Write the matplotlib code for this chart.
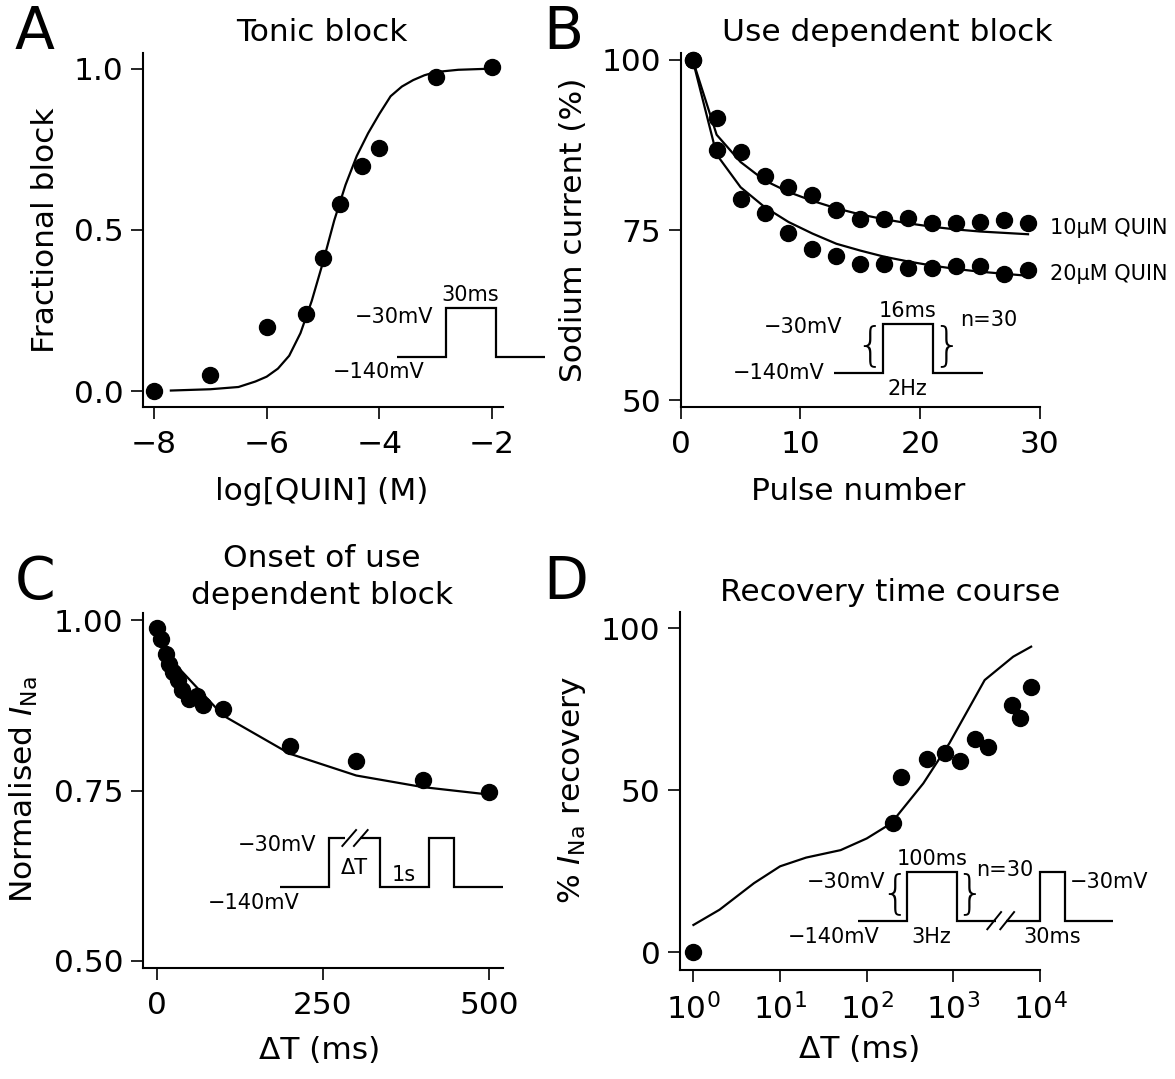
import matplotlib
matplotlib.use('Agg')
import matplotlib.pyplot as plt
from matplotlib.lines import Line2D

plt.rcParams['font.family'] = ['DejaVu Sans']
plt.rcParams['mathtext.fontset'] = 'dejavusans'

W, H = 1175, 1079

# ---------------- data ----------------
# A: Tonic block
a_log_conc = [-8.0, -7.0, -6.0, -5.3, -5.0, -4.7, -4.3, -4.0, -3.0, -2.0]
a_block = [0.0, 0.05, 0.199, 0.24, 0.413, 0.58, 0.697, 0.754, 0.975, 1.006]
a_fit_x = [-7.7, -7.0, -6.5, -6.2, -6.0, -5.8, -5.6, -5.4, -5.2, -5.0, -4.8,
           -4.6, -4.4, -4.2, -4.0, -3.8, -3.6, -3.4, -3.2, -3.0, -2.6, -2.1]
a_fit_y = [0.002, 0.006, 0.013, 0.03, 0.045, 0.07, 0.11, 0.18, 0.28, 0.40, 0.53,
           0.64, 0.73, 0.80, 0.86, 0.915, 0.945, 0.965, 0.98, 0.99, 0.997, 1.0]
a_xticks = [-8, -6, -4, -2]
a_yticks = [0.0, 0.5, 1.0]
a_yticklabels = ['0.0', '0.5', '1.0']

# B: Use dependent block
b_pulse = [1, 3, 5, 7, 9, 11, 13, 15, 17, 19, 21, 23, 25, 27, 29]
b_10uM = [100, 91.4, 86.4, 82.9, 81.3, 80.1, 78.0, 76.7, 76.7, 76.8, 76.1, 76.1, 76.2, 76.5, 76.0]
b_20uM = [100, 86.7, 79.6, 77.5, 74.6, 72.2, 71.2, 70.1, 70.0, 69.4, 69.5, 69.8, 69.8, 68.6, 69.2]
b_fit_10uM = [100, 89.0, 85.0, 82.3, 80.6, 79.3, 78.2, 77.3, 76.6, 76.0, 75.5, 75.1, 74.8, 74.6, 74.4]
b_fit_20uM = [100, 86.1, 81.3, 78.4, 76.2, 74.5, 73.0, 72.0, 71.1, 70.4, 69.8, 69.3, 68.9, 68.6, 68.3]
b_series_labels = ['10\u03bcM QUIN', '20\u03bcM QUIN']
b_xticks = [0, 10, 20, 30]
b_yticks = [50, 75, 100]

# C: Onset of use dependent block
c_dt = [0, 7, 14, 19, 25, 32, 38, 49, 60, 69, 100, 200, 300, 400, 500]
c_ina = [0.989, 0.972, 0.951, 0.935, 0.924, 0.912, 0.898, 0.885, 0.888, 0.875,
         0.870, 0.816, 0.794, 0.766, 0.748]
c_fit_x = [0, 10, 20, 30, 100, 200, 300, 400, 500]
c_fit_y = [0.995, 0.968, 0.95, 0.933, 0.860, 0.804, 0.772, 0.755, 0.744]
c_xticks = [0, 250, 500]
c_yticks = [0.50, 0.75, 1.00]
c_yticklabels = ['0.50', '0.75', '1.00']

# D: Recovery time course
d_dt = [1, 200, 250, 500, 800, 1200, 1800, 2500, 4800, 5900, 7900]
d_recovery = [0, 40.0, 54.2, 59.7, 61.6, 59.1, 65.8, 63.4, 76.3, 72.4, 81.8]
d_fit_x = [1, 2, 5, 10, 20, 50, 100, 190, 450, 900, 2300, 4900, 7900]
d_fit_y = [8.4, 13.1, 21.3, 26.5, 29.2, 31.5, 35.1, 39.7, 52.1, 64.5, 84.0, 91.2, 94.3]
d_xticks = [1, 10, 100, 1000, 10000]
d_yticks = [0, 50, 100]

# ---------------- style ----------------
FS = 22.5
INS = 15
LW = 1.6
MS = 11.5

fig = plt.figure(figsize=(W / 100, H / 100), dpi=100)


def fx(x):
    return x / W


def fy(y):
    return 1 - y / H


def rect(l, t, r, b):
    return [fx(l), fy(b), (r - l) / W, (b - t) / H]


def fig_line(xs, ys, lw=LW):
    fig.add_artist(Line2D([fx(x) for x in xs], [fy(y) for y in ys],
                          transform=fig.transFigure, color='black', lw=lw,
                          solid_joinstyle='miter', solid_capstyle='butt'))


def fig_txt(x, y, s, size=INS, ha='center', va='center', **kw):
    fig.text(fx(x), fy(y), s, fontsize=size, ha=ha, va=va, **kw)


def style_axes(ax):
    for side in ('top', 'right'):
        ax.spines[side].set_visible(False)
    for side in ('left', 'bottom'):
        ax.spines[side].set_linewidth(1.5)
    ax.tick_params(axis='both', which='major', direction='out', length=8.5,
                   width=1.2, labelsize=FS)
    ax.tick_params(axis='x', which='major', pad=8)
    ax.tick_params(axis='y', which='major', pad=5.5)
    ax.tick_params(axis='both', which='minor', direction='out', length=3.5, width=1.0)


# ---------------- Panel A ----------------
axA = fig.add_axes(rect(142.7, 52.7, 503.3, 407.3))
style_axes(axA)
axA.plot(a_fit_x, a_fit_y, color='black', lw=LW)
axA.plot(a_log_conc, a_block, 'o', color='black', ms=MS, clip_on=False)
axA.set_xlim(-8.2, -1.8)
axA.set_ylim(-0.05, 1.05)
axA.set_xticks(a_xticks)
axA.set_yticks(a_yticks)
axA.set_yticklabels(a_yticklabels)

# ---------------- Panel B ----------------
axB = fig.add_axes(rect(680.7, 53, 1040, 407.3))
style_axes(axB)
axB.plot(b_pulse, b_fit_10uM, color='black', lw=LW)
axB.plot(b_pulse, b_fit_20uM, color='black', lw=LW)
axB.plot(b_pulse, b_10uM, 'o', color='black', ms=MS, clip_on=False)
axB.plot(b_pulse, b_20uM, 'o', color='black', ms=MS, clip_on=False)
axB.set_xlim(0, 30)
axB.set_ylim(49, 101)
axB.set_xticks(b_xticks)
axB.set_yticks(b_yticks)

# ---------------- Panel C ----------------
axC = fig.add_axes(rect(142.7, 612.7, 503.3, 968.3))
style_axes(axC)
axC.plot(c_fit_x, c_fit_y, color='black', lw=LW)
axC.plot(c_dt, c_ina, 'o', color='black', ms=MS, clip_on=False)
axC.set_xlim(-21, 521)
axC.set_ylim(0.489, 1.011)
axC.set_xticks(c_xticks)
axC.set_yticks(c_yticks)
axC.set_yticklabels(c_yticklabels)

# ---------------- Panel D ----------------
axD = fig.add_axes(rect(680, 612, 1040, 970))
style_axes(axD)
axD.set_xscale('log')
axD.plot(d_fit_x, d_fit_y, color='black', lw=LW)
axD.plot(d_dt, d_recovery, 'o', color='black', ms=MS, clip_on=False)
axD.set_xlim(0.70, 1e4)
axD.set_ylim(-5.5, 105)
axD.set_xticks(d_xticks)
axD.set_yticks(d_yticks)

# ---------------- titles, labels, letters ----------------
fig_txt(322, 41, 'Tonic block', size=FS, va='baseline')
fig_txt(887, 41, 'Use dependent block', size=FS, va='baseline')
fig_txt(322, 567, 'Onset of use', size=FS, va='baseline')
fig_txt(322, 604, 'dependent block', size=FS, va='baseline')
fig_txt(890, 601, 'Recovery time course', size=FS, va='baseline')

fig_txt(322, 500, 'log[QUIN] (M)', size=FS, va='baseline')
fig_txt(858, 500, 'Pulse number', size=FS, va='baseline')
fig_txt(320, 1059, '\u0394T (ms)', size=FS, va='baseline')
fig_txt(860, 1058, '\u0394T (ms)', size=FS, va='baseline')

fig_txt(46, 230, 'Fractional block', size=FS, rotation=90)
fig_txt(574, 230, 'Sodium current (%)', size=FS, rotation=90)
fig_txt(24, 790, r'Normalised $I_{\mathrm{Na}}$', size=FS, rotation=90)
fig_txt(572, 790, r'% $I_{\mathrm{Na}}$ recovery', size=FS, rotation=90)

for lx, ly, letter in [(15, 49, 'A'), (543, 49, 'B'), (15, 599, 'C'), (543, 599, 'D')]:
    fig_txt(lx, ly, letter, size=42, ha='left', va='baseline')

# B series labels
fig_txt(1050, 228, b_series_labels[0], size=INS, ha='left')
fig_txt(1050, 274, b_series_labels[1], size=INS, ha='left')

# ---------------- protocol insets ----------------
# A
fig_line([396.7, 446, 446, 495.7, 495.7, 545], [356.7, 356.7, 308.3, 308.3, 356.7, 356.7])
fig_txt(470, 295, '30ms')
fig_txt(433, 317, '\u221230mV', ha='right')
fig_txt(425, 372, '\u2212140mV', ha='right')

# B
fig_line([833.5, 883, 883, 933.4, 933.4, 982.9], [373.3, 373.3, 324, 324, 373.3, 373.3])
fig_txt(907.7, 311, '16ms')
fig_txt(842.4, 326.7, '\u221230mV', ha='right')
fig_txt(824.7, 373.3, '\u2212140mV', ha='right')
fig_txt(907.7, 389, '2Hz')
fig_txt(988.9, 320, 'n=30')
fig_txt(869.5, 346, '{', size=33, fontweight='light')
fig_txt(946.5, 346, '}', size=33, fontweight='light')

# C
fig_line([280, 329.3, 329.3, 345], [886.7, 886.7, 837.7, 837.7])
fig_line([360, 380, 380, 429.3, 429.3, 454.3, 454.3, 503.3],
         [837.7, 837.7, 886.7, 886.7, 837.7, 837.7, 886.7, 886.7])
fig_line([341.7, 356.7], [846.7, 829.3], lw=1.4)
fig_line([353.3, 368.3], [846.7, 829.3], lw=1.4)
fig_txt(316.7, 845, '\u221230mV', ha='right')
fig_txt(354, 868, '\u0394T')
fig_txt(403.3, 875, '1s')
fig_txt(300, 903, '\u2212140mV', ha='right')

# D
fig_line([858.3, 906.7, 906.7, 957.3, 957.3, 996], [920.7, 920.7, 872.3, 872.3, 920.7, 920.7])
fig_line([1006, 1040, 1040, 1065, 1065, 1113.3], [920.7, 920.7, 872.3, 872.3, 920.7, 920.7])
fig_line([986.7, 1001.7], [930, 911.3], lw=1.4)
fig_line([999.7, 1014.7], [930, 911.3], lw=1.4)
fig_txt(931.7, 859, '100ms')
fig_txt(885, 881.7, '\u221230mV', ha='right')
fig_txt(1070, 881.7, '\u221230mV', ha='left')
fig_txt(1005, 870, 'n=30')
fig_txt(895, 894, '{', size=33, fontweight='light')
fig_txt(970, 894, '}', size=33, fontweight='light')
fig_txt(833.3, 937, '\u2212140mV')
fig_txt(931.7, 937, '3Hz')
fig_txt(1051.7, 937, '30ms')

fig.savefig('out.png', dpi=100)
